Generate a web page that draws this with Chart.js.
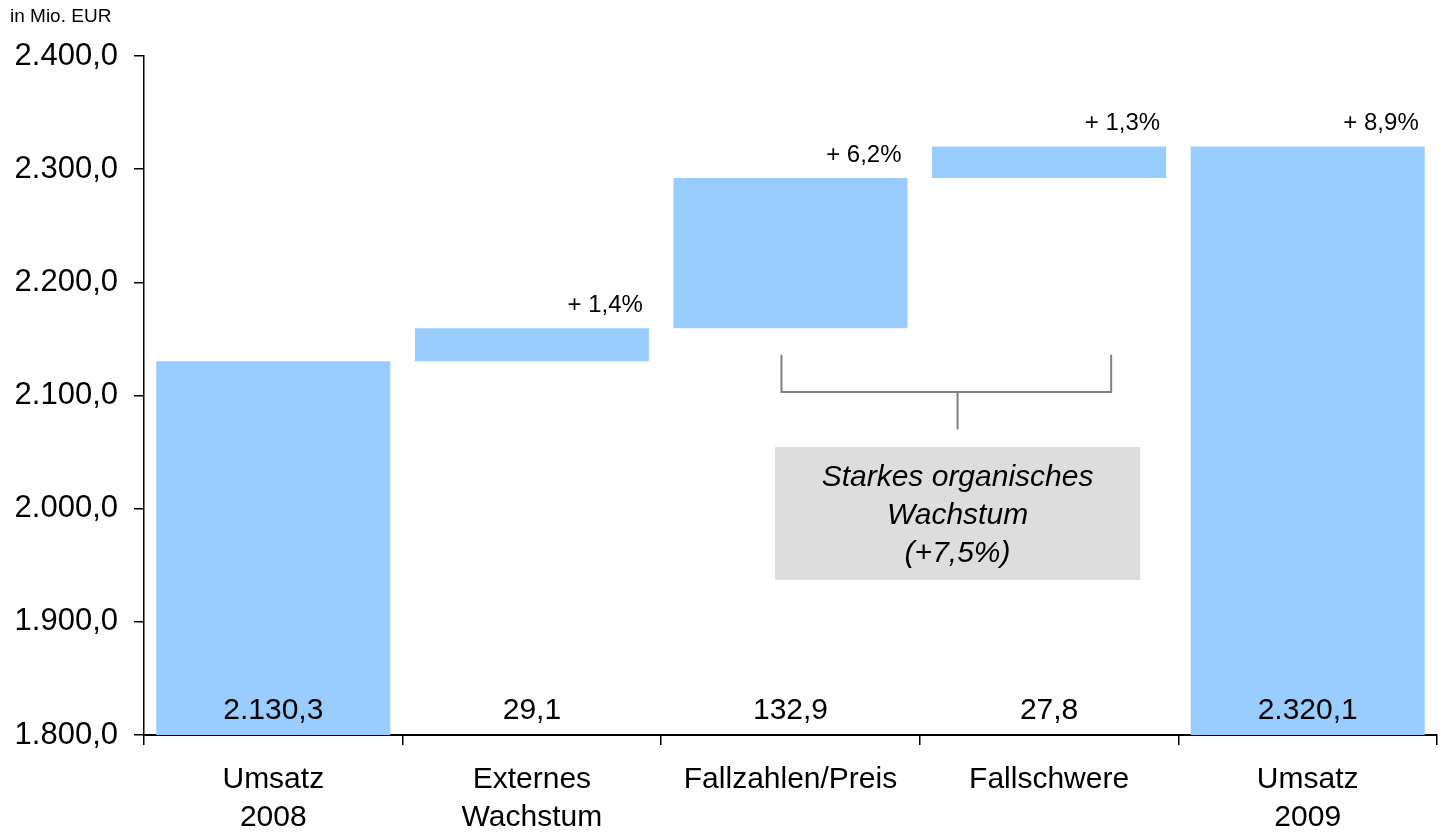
<!DOCTYPE html>
<html>
<head>
<meta charset="utf-8">
<script src="https://cdn.jsdelivr.net/npm/chart.js@4"></script>
<style>
  body { margin: 0; background: #fff; }
</style>
</head>
<body>
<canvas id="chart" width="1440" height="833"></canvas>
<script>
// Umsatzbrücke 2008 -> 2009
const categories = [['Umsatz', '2008'], ['Externes', 'Wachstum'], 'Fallzahlen/Preis', 'Fallschwere', ['Umsatz', '2009']];
const startValue = 2130.3;
const changes = [29.1, 132.9, 27.8];
const endValue = 2320.1;
const valueLabels = ['2.130,3', '29,1', '132,9', '27,8', '2.320,1'];
const percentLabels = ['', '+ 1,4%', '+ 6,2%', '+ 1,3%', '+ 8,9%'];
const yTicks = [1800, 1900, 2000, 2100, 2200, 2300, 2400];
const noteLines = ['Starkes organisches', 'Wachstum', '(+7,5%)'];

const FONT = 'Liberation Sans, Arial, Helvetica, sans-serif';
const yMin = yTicks[0];
const yMax = yTicks[yTicks.length - 1];

// build floating bars
const bars = [[yMin, startValue]];
let run = startValue;
changes.forEach(c => {
  bars.push([run, run + c]);
  run += c;
});
bars.push([yMin, endValue]);

const fmt = v => {
  const s = v.toFixed(1).split('.');
  return s[0].replace(/\B(?=(\d{3})+(?!\d))/g, '.') + ',' + s[1];
};

const labelPlugin = {
  id: 'labels',
  afterDatasetsDraw(chart) {
    const ctx = chart.ctx;
    const x = chart.scales.x;
    const y = chart.scales.y;
    const meta = chart.getDatasetMeta(0);
    ctx.save();
    ctx.fillStyle = '#000';
    ctx.textBaseline = 'middle';

    // unit
    ctx.font = '19px ' + FONT;
    ctx.textAlign = 'left';
    ctx.fillText('in Mio. EUR', 10, 17);

    meta.data.forEach((bar, i) => {
      ctx.font = '30px ' + FONT;
      ctx.textAlign = 'center';
      ctx.fillText(valueLabels[i], bar.x, y.getPixelForValue(yMin) - 24);
      if (percentLabels[i]) {
        const top = Math.min(bar.y, bar.base);
        ctx.font = '24px ' + FONT;
        ctx.textAlign = 'right';
        ctx.fillText(percentLabels[i], bar.x + bar.width / 2 - 6, top - 23);
      }
    });

    const catW = x.width / categories.length;
    const px = v => x.getPixelForValue(Math.floor(v)) + (v - Math.floor(v)) * catW;

    // note box
    const boxL = px(2 - 0.06), boxR = px(3 + 0.352);
    const boxT = y.getPixelForValue(2054.5), boxB = y.getPixelForValue(1937);
    const cx = (boxL + boxR) / 2;

    // bracket over organic growth
    const bl = px(2 - 0.035), br = px(3 + 0.24);
    const yTop = y.getPixelForValue(2136), yMid = y.getPixelForValue(2103), yEnd = y.getPixelForValue(2070);
    ctx.strokeStyle = '#808080';
    ctx.lineWidth = 2;
    ctx.beginPath();
    ctx.moveTo(bl, yTop); ctx.lineTo(bl, yMid); ctx.lineTo(br, yMid); ctx.lineTo(br, yTop);
    ctx.moveTo(cx, yMid); ctx.lineTo(cx, yEnd);
    ctx.stroke();

    ctx.fillStyle = '#dddddd';
    ctx.fillRect(boxL, boxT, boxR - boxL, boxB - boxT);
    ctx.fillStyle = '#000';
    ctx.font = 'italic 30px ' + FONT;
    ctx.textAlign = 'center';
    noteLines.forEach((t, k) => ctx.fillText(t, cx, boxT + 31 + k * 38));
    ctx.restore();
  }
};

new Chart(document.getElementById('chart'), {
  type: 'bar',
  data: {
    labels: categories,
    datasets: [{
      data: bars,
      backgroundColor: '#99ccff',
      borderWidth: 0,
      barPercentage: 0.905,
      categoryPercentage: 1
    }]
  },
  options: {
    responsive: false,
    animation: false,
    layout: { padding: { top: 56, right: 3, left: 0, bottom: 0 } },
    plugins: {
      legend: { display: false },
      tooltip: { enabled: false }
    },
    scales: {
      x: {
        grid: { drawOnChartArea: false, tickLength: 10, color: '#000', lineWidth: 1.5 },
        border: { color: '#000', width: 2 },
        ticks: { color: '#000', padding: 16, font: { family: FONT, size: 30, lineHeight: 1.27 } },
        afterFit: s => { s.height = 98; }
      },
      y: {
        min: yMin,
        max: yMax,
        grid: { drawOnChartArea: false, tickLength: 10, color: '#000', lineWidth: 1.5 },
        border: { color: '#000', width: 1.5 },
        ticks: {
          stepSize: 100,
          color: '#000',
          padding: 16,
          font: { family: FONT, size: 31 },
          callback: v => fmt(v)
        },
        afterBuildTicks: s => { s.ticks = yTicks.map(v => ({ value: v })); },
        afterFit: s => { s.width = 144; }
      }
    }
  },
  plugins: [labelPlugin]
});
</script>
</body>
</html>
